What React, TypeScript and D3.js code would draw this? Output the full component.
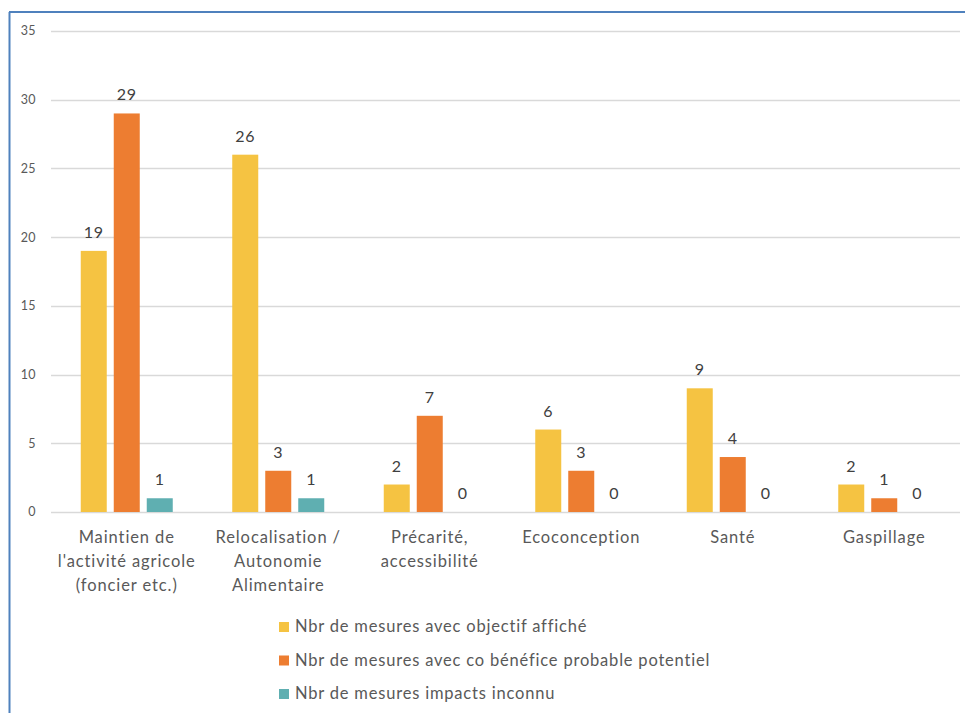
import React from "react";
import * as d3 from "d3";

const categories: string[][] = [
  ["Maintien de", "l'activité agricole", "(foncier etc.)"],
  ["Relocalisation /", "Autonomie", "Alimentaire"],
  ["Précarité,", "accessibilité"],
  ["Ecoconception"],
  ["Santé"],
  ["Gaspillage"],
];
const objectifAffiche = [19, 26, 2, 6, 9, 2];
const coBenefice = [29, 3, 7, 3, 4, 1];
const impactsInconnu = [1, 1, 0, 0, 0, 0];
const seriesNames = [
  "Nbr de mesures avec objectif affiché",
  "Nbr de mesures avec co bénéfice probable potentiel",
  "Nbr de mesures impacts inconnu",
];
const yTicks = [0, 5, 10, 15, 20, 25, 30, 35];

const colors = ["#F5C342", "#ED7D31", "#5FAFB1"];
const FONT = "Lato, 'Noto Sans', sans-serif";

export default function App() {
  const W = 965;
  const H = 713;
  const plotLeft = 51;
  const plotRight = 960;
  const y = d3.scaleLinear().domain([0, 35]).range([512, 31]);
  const x = d3
    .scaleBand<number>()
    .domain(categories.map((_, i) => i))
    .range([plotLeft, plotRight]);
  const series = [objectifAffiche, coBenefice, impactsInconnu];
  const barW = 26;
  const gap = 7;
  const groupW = series.length * barW + (series.length - 1) * gap;

  return (
    <div style={{ position: "fixed", left: 0, top: 0 }}>
      <svg width={W} height={H} style={{ display: "block", background: "#fff" }}>
        <rect x={0} y={0} width={W} height={H} fill="#fff" />
        {/* frame */}
        <line x1={9.5} y1={12} x2={9.5} y2={H} stroke="#4F81BD" strokeWidth={2} />
        <line x1={9} y1={12} x2={W} y2={12} stroke="#4F81BD" strokeWidth={2} />

        {/* gridlines and y labels */}
        {yTicks.map((t) => (
          <g key={t}>
            <line
              x1={plotLeft}
              x2={plotRight}
              y1={Math.round(y(t)) + 0.5}
              y2={Math.round(y(t)) + 0.5}
              stroke="#D9D9D9"
              strokeWidth={1.3}
            />
            <text
              x={36}
              y={y(t)}
              dy="0.35em"
              textAnchor="end"
              fontFamily={FONT}
              fontSize={12.5}
              letterSpacing={0.4}
              fill="#595959"
            >
              {t}
            </text>
          </g>
        ))}

        {/* bars and value labels */}
        {categories.map((_, ci) => {
          const cx = (x(ci) as number) + x.bandwidth() / 2;
          const start = cx - groupW / 2;
          return (
            <g key={ci}>
              {series.map((s, si) => {
                const bx = start + si * (barW + gap);
                const v = s[ci];
                return (
                  <g key={si}>
                    {v > 0 && (
                      <rect
                        x={bx}
                        y={y(v)}
                        width={barW}
                        height={y(0) - y(v)}
                        fill={colors[si]}
                      />
                    )}
                    <text
                      x={bx + barW / 2}
                      y={y(v) - 13}
                      textAnchor="middle"
                      fontFamily={FONT}
                      fontSize={16}
                      letterSpacing={0.6}
                      fill="#404040"
                    >
                      {v}
                    </text>
                  </g>
                );
              })}
              {categories[ci].map((line, li) => (
                <text
                  key={li}
                  x={cx}
                  y={543 + li * 24}
                  textAnchor="middle"
                  fontFamily={FONT}
                  fontSize={16.5}
                  letterSpacing={0.9}
                  fill="#595959"
                >
                  {line}
                </text>
              ))}
            </g>
          );
        })}

        {/* legend */}
        {seriesNames.map((name, i) => (
          <g key={i}>
            <rect x={279} y={622 + i * 33.5} width={10} height={10} fill={colors[i]} />
            <text
              x={295}
              y={632 + i * 33.5}
              fontFamily={FONT}
              fontSize={16.5}
              letterSpacing={0.8}
              fill="#595959"
            >
              {name}
            </text>
          </g>
        ))}
      </svg>
    </div>
  );
}
